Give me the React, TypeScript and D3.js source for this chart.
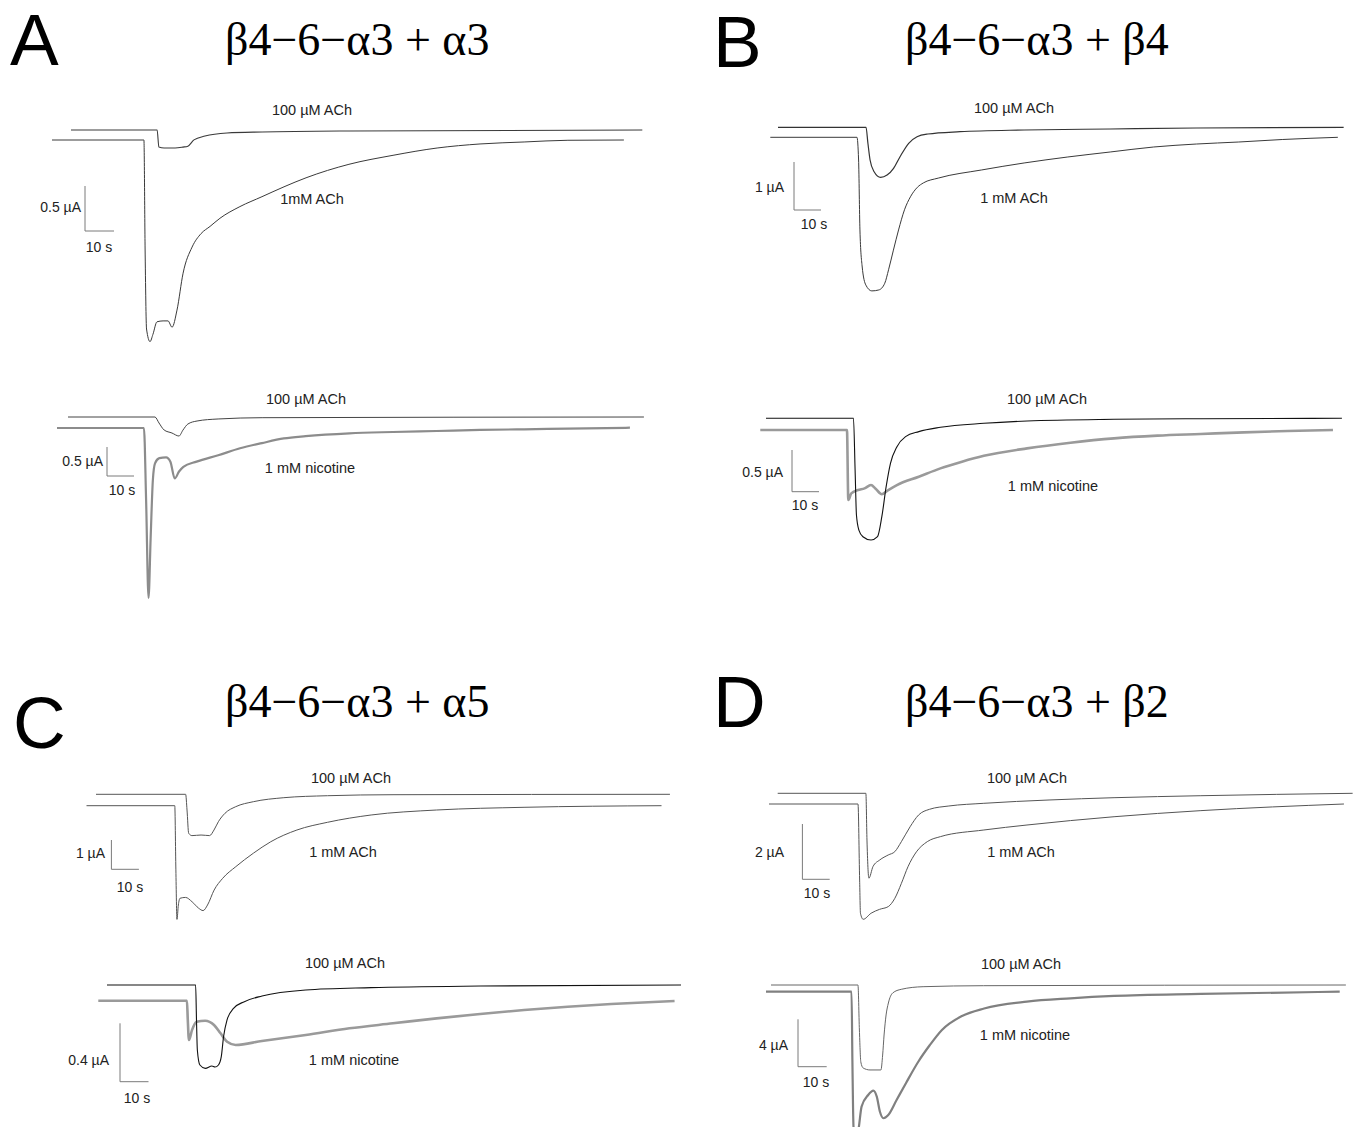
import React from 'react';
import * as d3 from 'd3';

type Pt = [number, number]; // [time (s), current (µA) relative to the trace's own holding baseline]

// ---------- text ----------
const PANEL_LETTERS = ['A', 'B', 'C', 'D'];
const PANEL_TITLES = ['β4−6−α3 + α3', 'β4−6−α3 + β4', 'β4−6−α3 + α5', 'β4−6−α3 + β2'];
const CONTROL_LABEL = '100 µM ACh';
const TEST_LABELS = ['1mM ACh', '1 mM nicotine', '1 mM ACh', '1 mM nicotine', '1 mM ACh', '1 mM nicotine', '1 mM ACh', '1 mM nicotine'];
const SCALE_CURRENT_UA = [0.5, 0.5, 1, 0.5, 1, 0.4, 2, 4];
const SCALE_CURRENT_TEXT = ['0.5 µA', '0.5 µA', '1 µA', '0.5 µA', '1 µA', '0.4 µA', '2 µA', '4 µA'];
const SCALE_TIME_S = 10;
const SCALE_TIME_TEXT = '10 s';

// ---------- traces (s, µA) ----------
// Panel A, upper pair
const A_TOP_ACH100: Pt[] = [[0, 0], [29.7, 0], [30.3, -0.19], [32.1, -0.2], [35.9, -0.2], [38.6, -0.19], [40.3, -0.18], [42.4, -0.11], [46.2, -0.067], [53.8, -0.033], [65.9, -0.022], [95.9, -0.011], [197, 0]];
const A_TOP_ACH1MM: Pt[] = [[0, 0], [31.7, 0], [32.1, -1.2], [32.6, -2.1], [33.8, -2.24], [34.8, -2.16], [36.2, -2.02], [38.3, -2.01], [40.0, -2.01], [41.4, -2.08], [43.1, -1.89], [45.2, -1.48], [48.3, -1.19], [51.4, -1.04], [54.5, -0.96], [57.9, -0.87], [64.8, -0.74], [72.4, -0.63], [80.0, -0.52], [87.6, -0.42], [102.4, -0.27], [117.6, -0.17], [132.8, -0.089], [147.6, -0.044], [162.8, -0.022], [177.9, -0.003], [197.2, 0]];
// Panel A, lower pair
const A_BOT_ACH100: Pt[] = [[0, 0], [32.2, 0], [33.7, -0.103], [35.6, -0.224], [38.5, -0.276], [41.1, -0.328], [42.6, -0.224], [44.4, -0.121], [47.8, -0.069], [55.6, -0.034], [71.9, -0.012], [213.3, 0]];
const A_BOT_NIC1MM: Pt[] = [[0, 0], [32.2, 0], [33.0, -1.24], [33.9, -2.93], [34.7, -1.87], [35.5, -0.9], [36.3, -0.61], [37.9, -0.52], [40.4, -0.505], [42.0, -0.58], [43.6, -0.87], [45.2, -0.75], [46.8, -0.67], [51.7, -0.58], [59.7, -0.47], [67.8, -0.35], [75.9, -0.26], [84.0, -0.18], [92.1, -0.14], [108.3, -0.091], [124.4, -0.069], [140.6, -0.052], [156.8, -0.034], [173.0, -0.022], [189.1, -0.012], [212.2, 0.005]];
// Panel B, upper pair
const B_TOP_ACH100: Pt[] = [[0, 0], [32.6, 0], [33.3, -0.333], [34.1, -0.681], [35.6, -0.925], [38.0, -1.042], [40.4, -0.994], [42.8, -0.854], [45.2, -0.613], [48.4, -0.333], [51.5, -0.196], [55.5, -0.14], [67.4, -0.092], [91.2, -0.056], [123.1, -0.035], [154.9, -0.015], [209.5, 0]];
const B_TOP_ACH1MM: Pt[] = [[0, 0], [32.1, 0], [32.7, -0.473], [33.2, -1.93], [34.0, -2.68], [35.4, -3.08], [37.6, -3.2], [40.2, -3.18], [42.4, -3.04], [43.8, -2.76], [45.6, -2.35], [47.5, -1.93], [49.7, -1.51], [51.9, -1.24], [54.5, -1.04], [56.7, -0.95], [62.2, -0.85], [78.3, -0.68], [94.0, -0.535], [110.2, -0.41], [125.9, -0.306], [142.0, -0.202], [157.8, -0.14], [173.5, -0.098], [189.6, -0.046], [210.2, 0]];
// Panel B, lower pair
const B_BOT_ACH100: Pt[] = [[0, 0], [32.4, 0], [33.0, -0.62], [33.5, -1.16], [34.4, -1.34], [35.9, -1.42], [38.9, -1.46], [41.3, -1.42], [42.9, -1.18], [44.5, -0.82], [46.1, -0.54], [48.5, -0.34], [51.7, -0.22], [56.6, -0.16], [64.6, -0.108], [80.7, -0.06], [96.7, -0.032], [128.9, -0.012], [161.0, -0.005], [213.3, 0]];
const B_BOT_NIC1MM: Pt[] = [[0, 0], [32.1, 0], [32.6, -0.84], [33.7, -0.76], [36.2, -0.72], [38.6, -0.7], [41.0, -0.66], [42.6, -0.7], [45.0, -0.77], [47.4, -0.72], [50.6, -0.66], [58.7, -0.56], [66.7, -0.46], [74.7, -0.38], [82.8, -0.31], [98.8, -0.22], [114.9, -0.152], [131.0, -0.1], [147.1, -0.068], [163.1, -0.048], [179.1, -0.028], [195.3, -0.012], [212.1, 0]];
// Panel C, upper pair
const C_TOP_ACH100: Pt[] = [[0, 0], [32.6, 0], [33.1, -0.536], [33.7, -1.33], [34.9, -1.41], [38.2, -1.39], [41.3, -1.41], [42.9, -1.22], [44.5, -0.935], [46.9, -0.648], [50.8, -0.423], [57.2, -0.253], [68.3, -0.116], [84.2, -0.048], [108, -0.014], [208.7, 0]];
const C_TOP_ACH1MM: Pt[] = [[0, 0], [32.1, 0], [32.5, -2.19], [32.9, -3.88], [33.4, -3.39], [34.0, -3.16], [36.0, -3.13], [38.4, -3.28], [40.8, -3.5], [42.4, -3.58], [44.0, -3.39], [46.4, -2.88], [49.5, -2.48], [54.3, -2.08], [60.7, -1.62], [67.0, -1.23], [76.5, -0.83], [87.6, -0.567], [103.5, -0.317], [127.3, -0.147], [159.1, -0.055], [209.1, 0]];
// Panel C, lower pair
const C_BOT_ACH100: Pt[] = [[0, 0], [31.1, 0], [31.4, -0.24], [31.7, -0.445], [32.6, -0.548], [34.5, -0.571], [36.8, -0.555], [37.9, -0.562], [39.1, -0.548], [40.1, -0.491], [40.9, -0.354], [42.1, -0.24], [44.4, -0.16], [48.2, -0.114], [54.4, -0.075], [69.7, -0.034], [92.7, -0.018], [131, -0.007], [201.4, 0]];
const C_BOT_NIC1MM: Pt[] = [[0, 0], [31.1, 0], [31.4, -0.132], [31.8, -0.269], [32.9, -0.2], [34.5, -0.144], [37.5, -0.137], [40.6, -0.166], [42.9, -0.223], [45.2, -0.281], [48.2, -0.303], [57.4, -0.276], [72.8, -0.235], [88.1, -0.189], [103.4, -0.155], [118.7, -0.121], [134.0, -0.091], [149.4, -0.064], [164.7, -0.041], [180.0, -0.023], [202.2, -0.002]];
// Panel D, upper pair
const D_TOP_ACH100: Pt[] = [[0, 0], [32.3, 0], [32.7, -1.69], [33.4, -3.07], [34.9, -2.65], [37.4, -2.41], [40.5, -2.23], [42.9, -2.11], [45.3, -1.75], [48.5, -1.21], [51.6, -0.785], [55.6, -0.579], [62.7, -0.459], [75.5, -0.362], [99.4, -0.242], [123.2, -0.159], [155.0, -0.087], [210.6, 0]];
const D_TOP_ACH1MM: Pt[] = [[0, 0], [32.6, 0], [33.2, -2.75], [33.5, -3.95], [34.5, -4.17], [37.4, -3.95], [40.5, -3.81], [43.7, -3.71], [46.1, -3.41], [48.5, -2.87], [50.9, -2.27], [54.0, -1.73], [58.0, -1.36], [62.8, -1.18], [78.7, -0.94], [94.5, -0.76], [126.4, -0.46], [158.2, -0.24], [210.6, 0]];
// Panel D, lower pair
const D_BOT_ACH100: Pt[] = [[0, 0], [30.3, 0], [30.8, -3.8], [31.3, -6.5], [32.1, -7.0], [34.5, -7.17], [38.3, -7.17], [38.9, -5.91], [39.4, -4.22], [40.1, -2.53], [40.9, -1.52], [42.4, -0.675], [45.4, -0.363], [53.0, -0.143], [74.1, -0.059], [200.3, 0]];
const D_BOT_NIC1MM: Pt[] = [[0, 0], [29.8, 0], [30.1, -5.76], [30.5, -11.42], [31.4, -12.5], [32.3, -11.5], [33.3, -9.7], [35.6, -8.72], [37.4, -8.35], [38.6, -8.86], [39.7, -10.13], [40.9, -10.68], [42.6, -10.41], [45.5, -9.14], [48.8, -7.7], [53.0, -5.93], [57.1, -4.5], [61.3, -3.23], [68.3, -2.05], [76.0, -1.42], [90.9, -0.84], [106.1, -0.56], [121.3, -0.36], [151.5, -0.19], [199.9, 0]];

const CONTROL_TRACES = [A_TOP_ACH100, A_BOT_ACH100, B_TOP_ACH100, B_BOT_ACH100, C_TOP_ACH100, C_BOT_ACH100, D_TOP_ACH100, D_BOT_ACH100];
const TEST_TRACES = [A_TOP_ACH1MM, A_BOT_NIC1MM, B_TOP_ACH1MM, B_BOT_NIC1MM, C_TOP_ACH1MM, C_BOT_NIC1MM, D_TOP_ACH1MM, D_BOT_NIC1MM];

// ---------- layout (pixels) & styles ----------
interface TraceStyle { x0: number; y0: number; color: string; width: number }
interface SubLayout {
  bar: { x: number; bottom: number; w: number; h: number };
  ctrl: TraceStyle;
  test: TraceStyle;
  ctrlLabel: [number, number];
  testLabel: [number, number];
  curLabel: [number, number];
  timeLabel: [number, number];
}

const LAYOUT: SubLayout[] = [
  { bar: { x: 85, bottom: 231, w: 29, h: 45 }, ctrl: { x0: 71, y0: 130, color: '#3a3a3a', width: 1.1 }, test: { x0: 52, y0: 140, color: '#3a3a3a', width: 1 }, ctrlLabel: [312, 115], testLabel: [312, 204], curLabel: [81, 212], timeLabel: [99, 252] },
  { bar: { x: 107, bottom: 476, w: 27, h: 29 }, ctrl: { x0: 68, y0: 417, color: '#444', width: 1 }, test: { x0: 57, y0: 428, color: '#8c8c8c', width: 2.2 }, ctrlLabel: [306, 404], testLabel: [310, 473], curLabel: [103, 466], timeLabel: [122, 495] },
  { bar: { x: 794, bottom: 210, w: 27, h: 48 }, ctrl: { x0: 778, y0: 127.3, color: '#333', width: 1.2 }, test: { x0: 770.3, y0: 137.3, color: '#3a3a3a', width: 1 }, ctrlLabel: [1014, 113], testLabel: [1014, 203], curLabel: [784, 192], timeLabel: [814, 229] },
  { bar: { x: 792, bottom: 491.7, w: 27, h: 41.7 }, ctrl: { x0: 766, y0: 418.3, color: '#111', width: 1.1 }, test: { x0: 760.3, y0: 430, color: '#9a9a9a', width: 2.6 }, ctrlLabel: [1047, 404], testLabel: [1053, 491], curLabel: [783, 477], timeLabel: [805, 510] },
  { bar: { x: 111.4, bottom: 869.3, w: 27.5, h: 29.3 }, ctrl: { x0: 96, y0: 794.3, color: '#555', width: 1 }, test: { x0: 86.5, y0: 805.7, color: '#555', width: 1 }, ctrlLabel: [351, 783], testLabel: [343, 857], curLabel: [105, 858], timeLabel: [130, 892] },
  { bar: { x: 120, bottom: 1081.7, w: 28.5, h: 58.4 }, ctrl: { x0: 107, y0: 985, color: '#111', width: 1.1 }, test: { x0: 98.3, y0: 1000.7, color: '#9a9a9a', width: 2.6 }, ctrlLabel: [345, 968], testLabel: [354, 1065], curLabel: [109, 1065], timeLabel: [137, 1103] },
  { bar: { x: 802.4, bottom: 879.3, w: 27.3, h: 55.3 }, ctrl: { x0: 777.7, y0: 793.3, color: '#555', width: 1 }, test: { x0: 769, y0: 804, color: '#555', width: 1 }, ctrlLabel: [1027, 783], testLabel: [1021, 857], curLabel: [784, 857], timeLabel: [817, 898] },
  { bar: { x: 798, bottom: 1066.7, w: 28.7, h: 47.4 }, ctrl: { x0: 771, y0: 985, color: '#666', width: 1 }, test: { x0: 766, y0: 991.7, color: '#808080', width: 2.2 }, ctrlLabel: [1021, 969], testLabel: [1025, 1040], curLabel: [788, 1050], timeLabel: [816, 1087] },
];

const LETTER_POS: [number, number][] = [[10, 65], [713, 67], [13, 748], [713, 727]];
const TITLE_POS: [number, number][] = [[225, 55], [905, 55], [225, 717], [905, 717]];

const SANS = '"Liberation Sans", Arial, Helvetica, sans-serif';
const SERIF = '"Liberation Serif", "Times New Roman", Times, serif';

function tracePath(data: Pt[], st: TraceStyle, bar: SubLayout['bar'], currentStep: number): string {
  const x = d3.scaleLinear().domain([0, SCALE_TIME_S]).range([st.x0, st.x0 + bar.w]);
  const y = d3.scaleLinear().domain([0, -currentStep]).range([st.y0, st.y0 + bar.h]);
  const line = d3.line<Pt>().x(d => x(d[0])).y(d => y(d[1])).curve(d3.curveMonotoneX);
  return line(data) || '';
}

function Subplot({ i }: { i: number }) {
  const L = LAYOUT[i];
  const step = SCALE_CURRENT_UA[i];
  const ctrlD = tracePath(CONTROL_TRACES[i], L.ctrl, L.bar, step);
  const testD = tracePath(TEST_TRACES[i], L.test, L.bar, step);
  const b = L.bar;
  return (
    <g>
      <path d={testD} fill="none" stroke={L.test.color} strokeWidth={L.test.width} strokeLinejoin="round" />
      <path d={ctrlD} fill="none" stroke={L.ctrl.color} strokeWidth={L.ctrl.width} strokeLinejoin="round" />
      <path d={`M${b.x},${b.bottom - b.h}V${b.bottom}H${b.x + b.w}`} fill="none" stroke="#7a7a7a" strokeWidth={1} />
      <text x={L.curLabel[0]} y={L.curLabel[1]} textAnchor="end" fontFamily={SANS} fontSize={14} fill="#222">{SCALE_CURRENT_TEXT[i]}</text>
      <text x={L.timeLabel[0]} y={L.timeLabel[1]} textAnchor="middle" fontFamily={SANS} fontSize={14} fill="#222">{SCALE_TIME_TEXT}</text>
      <text x={L.ctrlLabel[0]} y={L.ctrlLabel[1]} textAnchor="middle" fontFamily={SANS} fontSize={14.5} fill="#222">{CONTROL_LABEL}</text>
      <text x={L.testLabel[0]} y={L.testLabel[1]} textAnchor="middle" fontFamily={SANS} fontSize={14.5} fill="#222">{TEST_LABELS[i]}</text>
    </g>
  );
}

export default function App() {
  return (
    <div style={{ position: 'absolute', left: 0, top: 0 }}>
      <svg width={1357} height={1127} viewBox="0 0 1357 1127" style={{ display: 'block' }}>
        <rect x={0} y={0} width={1357} height={1127} fill="#fff" />
        {PANEL_LETTERS.map((l, k) => (
          <text key={l} x={LETTER_POS[k][0]} y={LETTER_POS[k][1]} fontFamily={SANS} fontSize={73} fill="#000">{l}</text>
        ))}
        {PANEL_TITLES.map((t, k) => (
          <text key={t} x={TITLE_POS[k][0]} y={TITLE_POS[k][1]} fontFamily={SERIF} fontSize={46} fill="#000">{t}</text>
        ))}
        {LAYOUT.map((_, i) => <Subplot key={i} i={i} />)}
      </svg>
    </div>
  );
}
